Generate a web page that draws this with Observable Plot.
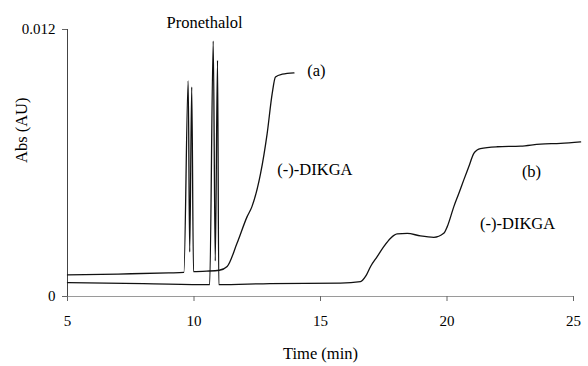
<!DOCTYPE html>
<html>
<head>
<meta charset="utf-8">
<script src="https://cdn.jsdelivr.net/npm/d3@7"></script>
<script src="https://cdn.jsdelivr.net/npm/@observablehq/plot@0.6"></script>
<style>
  html, body { margin: 0; padding: 0; background: #fff; }
  #chart { width: 588px; height: 366px; }
  #chart svg, #chart svg text { font-family: "Liberation Serif", "Times New Roman", serif !important; }
</style>
</head>
<body>
<div id="chart"></div>
<script>
// Trace (a): time (min) and absorbance (AU)
const traceATime = [5, 7, 9, 9.60, 9.77, 9.83, 9.91, 9.98, 10.5, 11.0, 11.31, 11.70, 12.10, 12.29, 12.63, 12.89, 13.09, 13.22, 13.49, 13.95];
const traceAAbs  = [0.00097, 0.00101, 0.00106, 0.00108, 0.00969, 0.00200, 0.00941, 0.00112, 0.00114, 0.00118, 0.00135, 0.00239, 0.00359, 0.00404, 0.00552, 0.00731, 0.00912, 0.00987, 0.00999, 0.01005];

// Trace (b)
const traceBTime = [5, 8, 10.62, 10.76, 10.84, 10.93, 10.98, 13, 15.79, 16.58, 16.78, 16.98, 17.24, 17.50, 17.77, 18.03, 18.43, 18.95, 19.48, 19.87, 20.01, 20.27, 20.47, 20.66, 20.86, 21.06, 21.19, 21.32, 21.98, 22.91, 23.70, 24.49, 25.28];
const traceBAbs  = [0.00062, 0.00058, 0.00053, 0.01148, 0.00160, 0.01061, 0.00053, 0.00058, 0.00060, 0.00067, 0.00090, 0.00135, 0.00179, 0.00224, 0.00262, 0.00281, 0.00284, 0.00272, 0.00266, 0.00284, 0.00314, 0.00404, 0.00464, 0.00523, 0.00583, 0.00643, 0.00658, 0.00665, 0.00673, 0.00676, 0.00685, 0.00688, 0.00695];

// Annotations
const labelText = ["Pronethalol", "(a)", "(-)-DIKGA", "(b)", "(-)-DIKGA"];
const labelTime = [10.42, 14.84, 14.78, 23.34, 22.79];
const labelAbs  = [0.01232, 0.01016, 0.00570, 0.00559, 0.00326];

// Axes
const xTicks = [5, 10, 15, 20, 25];
const yTicks = [0, 0.012];
const yTickLabels = ["0", "0.012"];
const xTitle = "Time (min)";
const yTitle = "Abs (AU)";

const traceA = traceATime.map((t, i) => ({t, v: traceAAbs[i]}));
const traceB = traceBTime.map((t, i) => ({t, v: traceBAbs[i]}));
const labels = labelText.map((s, i) => ({s, t: labelTime[i], v: labelAbs[i]}));

const font = "Liberation Serif";

const chart = Plot.plot({
  width: 588,
  height: 366,
  marginLeft: 67,
  marginRight: 15,
  marginTop: 29,
  marginBottom: 70,
  style: "font-family: 'Liberation Serif', serif; font-size: 15px; color: #000; background: #fff;",
  x: {domain: [5, 25]},
  y: {domain: [0, 0.012]},
  marks: [
    Plot.ruleY([0], {stroke: "#9a9a9a", strokeWidth: 1}),
    Plot.ruleX([5], {stroke: "#444", strokeWidth: 1}),
    Plot.axisX({ticks: xTicks, tickSize: 5, tickPadding: 14, tickFormat: d => String(d), label: null, stroke: "#666", fontSize: 15, fontFamily: font}),
    Plot.axisY({ticks: yTicks, tickSize: 5, tickPadding: 7, tickFormat: d => yTickLabels[yTicks.indexOf(d)], label: null, stroke: "#666", fontSize: 15, fontFamily: font}),
    Plot.line(traceA, {x: "t", y: "v", stroke: "#111", strokeWidth: 1.3, curve: "monotone-x"}),
    Plot.line(traceB, {x: "t", y: "v", stroke: "#111", strokeWidth: 1.3, curve: "monotone-x"}),
    Plot.text(labels, {x: "t", y: "v", text: "s", fontSize: 16.5, fontFamily: font, fill: "#000"}),
    Plot.text([xTitle], {frameAnchor: "bottom", dy: 62, fontSize: 16.5, fontFamily: font, fill: "#000"}),
    Plot.text([yTitle], {frameAnchor: "left", dx: -46, rotate: -90, fontSize: 16.5, fontFamily: font, fill: "#000"})
  ]
});
document.getElementById("chart").appendChild(chart);
</script>
</body>
</html>
